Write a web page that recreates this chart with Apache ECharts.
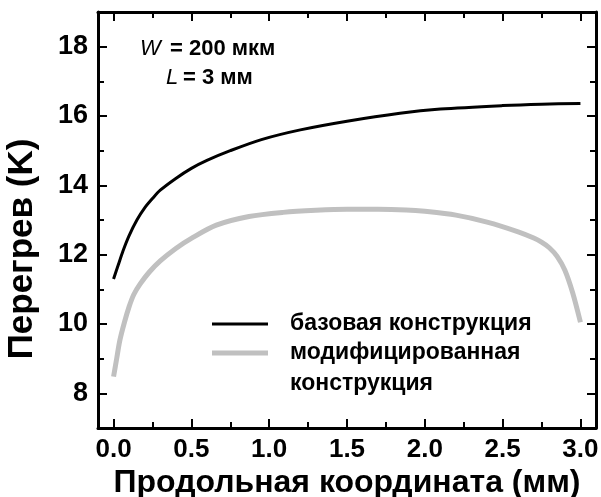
<!DOCTYPE html>
<html>
<head>
<meta charset="utf-8">
<script src="https://cdn.jsdelivr.net/npm/echarts@6/dist/echarts.min.js"></script>
<style>html,body{margin:0;padding:0;background:#fff}#c{width:601px;height:497px}</style>
</head>
<body>
<div id="c"></div>
<script>
// ---- data ----
var baseX = [0, 0.03, 0.06, 0.1, 0.15, 0.2, 0.25, 0.3, 0.4, 0.5, 0.6, 0.75, 0.95, 1.2, 1.5, 1.84, 2.1, 2.5, 2.75, 3.0];
var baseY = [11.3, 11.7, 12.1, 12.55, 13.0, 13.35, 13.62, 13.86, 14.2, 14.49, 14.72, 15.0, 15.32, 15.6, 15.85, 16.08, 16.2, 16.3, 16.34, 16.36];
var modX = [0, 0.02, 0.04, 0.07, 0.1, 0.13, 0.17, 0.23, 0.3, 0.4, 0.5, 0.66, 0.87, 1.09, 1.3, 1.5, 1.7, 1.88, 2.0, 2.2, 2.4, 2.6, 2.7, 2.75, 2.8, 2.85, 2.9, 2.95, 3.0];
var modY = [8.48, 9.0, 9.52, 10.05, 10.5, 10.85, 11.15, 11.5, 11.82, 12.18, 12.47, 12.85, 13.1, 13.22, 13.28, 13.31, 13.31, 13.29, 13.25, 13.14, 12.94, 12.66, 12.48, 12.36, 12.2, 11.95, 11.55, 10.9, 10.05];
var xMajor = [0, 0.5, 1.0, 1.5, 2.0, 2.5, 3.0];
var xMinor = [0.25, 0.75, 1.25, 1.75, 2.25, 2.75];
var yMajor = [8, 10, 12, 14, 16, 18];
var yMinor = [9, 11, 13, 15, 17];
var seriesNames = ['базовая конструкция', 'модифицированная конструкция'];
var xTitle = 'Продольная координата (мм)';
var yTitle = 'Перегрев (K)';

function pairs(xs, ys) { return xs.map(function (x, i) { return [x, ys[i]]; }); }

var FONT = '"Liberation Sans", Arial, Helvetica, sans-serif';
var XMIN = -0.1, XMAX = 3.1, YMIN = 7, YMAX = 19;

function xAx(pos, ticks, len, showLine, labels) {
  return {
    type: 'value', position: pos, min: XMIN, max: XMAX,
    splitLine: { show: false },
    axisLine: { show: showLine, onZero: false, lineStyle: { color: '#000', width: 3 } },
    axisTick: { show: true, inside: true, length: len, customValues: ticks, lineStyle: { color: '#000', width: 2 } },
    axisLabel: labels ? { show: true, customValues: ticks, formatter: function (v) { return v.toFixed(1); },
      color: '#000', fontFamily: FONT, fontWeight: 'bold', fontSize: 26, margin: 9 } : { show: false }
  };
}
function yAx(pos, ticks, len, showLine, labels) {
  return {
    type: 'value', position: pos, min: YMIN, max: YMAX,
    splitLine: { show: false },
    axisLine: { show: showLine, onZero: false, lineStyle: { color: '#000', width: 3 } },
    axisTick: { show: true, inside: true, length: len, customValues: ticks, lineStyle: { color: '#000', width: 2 } },
    axisLabel: labels ? { show: true, customValues: ticks, formatter: function (v) { return String(v); },
      color: '#000', fontFamily: FONT, fontWeight: 'bold', fontSize: 27, margin: 10 } : { show: false }
  };
}

var xs = [xAx('bottom', xMajor, 9, true, true), xAx('bottom', xMinor, 6, false, false),
          xAx('top', xMajor, 9, true, false), xAx('top', xMinor, 6, false, false)];
xs[0].name = xTitle;
xs[0].nameLocation = 'middle';
xs[0].nameGap = 39;
xs[0].nameMoveOverlap = false;
xs[0].nameTextStyle = { color: '#000', fontFamily: FONT, fontWeight: 'bold', fontSize: 32 };
var ys = [yAx('left', yMajor, 9, true, true), yAx('left', yMinor, 6, false, false),
          yAx('right', yMajor, 9, true, false), yAx('right', yMinor, 6, false, false)];
ys[0].name = yTitle;
ys[0].nameLocation = 'middle';
ys[0].nameGap = 58;
ys[0].nameMoveOverlap = false;
ys[0].nameTextStyle = { color: '#000', fontFamily: FONT, fontWeight: 'bold', fontSize: 35, padding: [0, 58, 0, 0] };

var legendText = { color: '#000', fontFamily: FONT, fontWeight: 'bold', fontSize: 23, lineHeight: 31,
  rich: { t: { fontFamily: FONT, fontWeight: 'bold', fontSize: 23, lineHeight: 31, color: '#000', padding: [0, 0, 0, 17] } } };

var option = {
  animation: false,
  backgroundColor: '#fff',
  grid: { left: 98, top: 12, right: 5, bottom: 69, containLabel: false, outerBoundsMode: 'none' },
  xAxis: xs,
  yAxis: ys,
  legend: [
    { data: [{ name: seriesNames[0], icon: 'rect' }], left: 212, top: 308.5, padding: 0, itemWidth: 56, itemHeight: 3,
      itemGap: 0, textStyle: legendText, selectedMode: false,
      formatter: function (n) { return '{t|' + n + '}'; } },
    { data: [{ name: seriesNames[1], icon: 'rect' }], left: 212, top: 306.5, padding: 0, itemWidth: 56, itemHeight: 5,
      itemGap: 0, selectedMode: false, textStyle: legendText,
      formatter: function (n) { var p = n.split(' '); return '{t| }\n{t|' + p[0] + '}\n{t|' + p[1] + '}'; } }
  ],
  graphic: [
    { type: 'text', left: 140, top: 38, style: { text: 'W', font: 'italic 22px ' + FONT, fill: '#000' } },
    { type: 'text', left: 170, top: 38, style: { text: '= 200 мкм', font: 'bold 22px ' + FONT, fill: '#000' } },
    { type: 'text', left: 166, top: 67, style: { text: 'L', font: 'italic 22px ' + FONT, fill: '#000' } },
    { type: 'text', left: 183, top: 67, style: { text: '= 3 мм', font: 'bold 22px ' + FONT, fill: '#000' } }
  ],
  series: [
    { name: seriesNames[0], type: 'line', xAxisIndex: 0, yAxisIndex: 0, data: pairs(baseX, baseY),
      smooth: 0.3, showSymbol: false, symbol: 'none', lineStyle: { color: '#000', width: 3 }, itemStyle: { color: '#000' } },
    { name: seriesNames[1], type: 'line', xAxisIndex: 0, yAxisIndex: 0, data: pairs(modX, modY),
      smooth: 0.3, showSymbol: false, symbol: 'none', lineStyle: { color: '#c0c0c0', width: 5 }, itemStyle: { color: '#c0c0c0' } }
  ]
};
var chart = echarts.init(document.getElementById('c'), null, { renderer: 'canvas' });
chart.setOption(option);
</script>
</body>
</html>
